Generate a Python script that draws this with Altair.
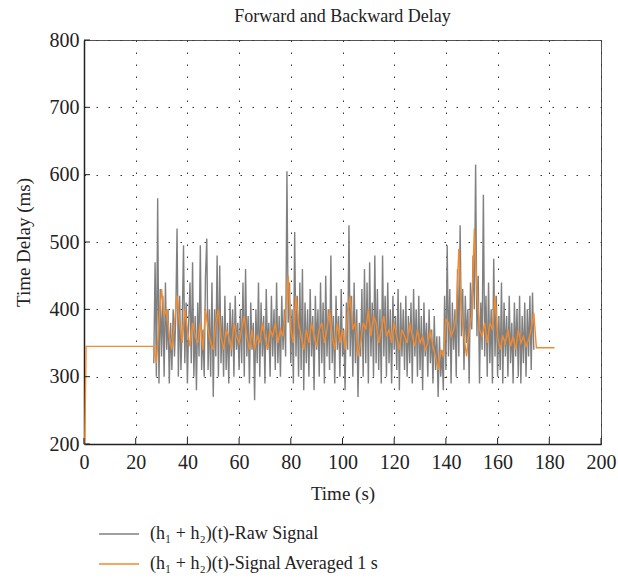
import altair as alt
import pandas as pd

# ---- data ----
raw_t0 = 27.0
raw_step = 0.5
raw_values = [
    320, 470, 300, 565, 290, 430, 330, 420, 300, 440, 340, 400, 290, 380, 310, 400, 330, 390, 520, 300,
    420, 310, 380, 495, 320, 410, 290, 380, 440, 320, 470, 300, 390, 280, 410, 330, 495, 310, 370, 300,
    450, 505, 310, 400, 300, 440, 270, 400, 330, 480, 300, 465, 320, 390, 300, 420, 310, 380, 290, 410,
    330, 400, 300, 420, 340, 380, 310, 400, 320, 440, 300, 460, 330, 390, 290, 410, 340, 380, 265, 400,
    320, 440, 300, 410, 330, 390, 290, 430, 340, 380, 300, 420, 330, 400, 310, 440, 320, 390, 300, 420,
    340, 400, 330, 605, 380, 440, 320, 400, 290, 515, 330, 420, 300, 440, 310, 460, 280, 410, 320, 400,
    300, 430, 330, 390, 280, 420, 340, 400, 300, 440, 320, 410, 290, 450, 330, 400, 310, 480, 320, 390,
    290, 420, 340, 390, 300, 430, 330, 370, 280, 410, 340, 525, 330, 420, 300, 440, 320, 400, 270, 380,
    330, 430, 300, 460, 320, 440, 290, 470, 330, 410, 300, 480, 320, 430, 310, 400, 290, 480, 330, 420,
    300, 440, 320, 400, 290, 420, 340, 390, 310, 430, 280, 410, 330, 400, 310, 420, 300, 390, 320, 410,
    290, 430, 330, 400, 300, 420, 310, 390, 280, 410, 330, 380, 300, 400, 320, 370, 290, 390, 310, 360,
    270, 360, 300, 340, 280, 420, 310, 495, 330, 430, 290, 410, 340, 400, 300, 460, 330, 525, 360, 430,
    310, 420, 350, 400, 290, 440, 370, 480, 400, 615, 360, 450, 290, 410, 340, 570, 330, 420, 300, 440,
    320, 400, 290, 475, 330, 420, 300, 390, 310, 440, 290, 410, 330, 390, 300, 420, 320, 380, 290, 410,
    330, 400, 300, 420, 290, 390, 320, 410, 300, 400, 330, 420, 310, 425, 340,
]

avg_head_t = [0.0, 0.3, 0.8]
avg_head_v = [200, 200, 345]
avg_t0 = 27
avg_values = [
    345, 320, 380, 430, 390, 400, 360, 340, 380, 420,
    380, 350, 400, 370, 345, 380, 360, 350, 380, 340,
    400, 370, 350, 340, 380, 400, 360, 340, 370, 360,
    340, 380, 360, 350, 370, 390, 360, 340, 370, 340,
    360, 350, 380, 360, 340, 370, 360, 380, 350, 370,
    360, 400, 450, 370, 350, 420, 380, 360, 340, 370,
    350, 380, 360, 345, 370, 380, 350, 370, 400, 360,
    340, 380, 350, 370, 340, 395, 420, 370, 380, 330,
    350, 380, 370, 400, 360, 390, 380, 350, 370, 390,
    360, 370, 350, 380, 360, 340, 370, 360, 350, 380,
    360, 345, 370, 350, 360, 340, 350, 370, 345, 330,
    310, 340, 330, 385, 380, 360, 370, 390, 490, 400,
    360, 330, 370, 390, 520, 430, 370, 360, 380, 350,
    380, 370, 420, 360, 340, 360, 350, 370, 345, 360,
    340, 370, 350, 360, 345, 355, 370, 395,
]
avg_tail_t = [175.0, 182.0]
avg_tail_v = [343, 343]

x_ticks = [0, 20, 40, 60, 80, 100, 120, 140, 160, 180, 200]
y_ticks = [200, 300, 400, 500, 600, 700, 800]

label_raw = "(h\u2081 + h\u2082)(t)-Raw Signal"
label_avg = "(h\u2081 + h\u2082)(t)-Signal Averaged 1 s"

# ---- tables ----
raw_df = pd.DataFrame({
    "t": [raw_t0 + i * raw_step for i in range(len(raw_values))],
    "v": raw_values,
    "series": label_raw,
})
avg_t = avg_head_t + [avg_t0 + i for i in range(len(avg_values))] + avg_tail_t
avg_v = avg_head_v + avg_values + avg_tail_v
avg_df = pd.DataFrame({"t": avg_t, "v": avg_v, "series": label_avg})

FONT = "Liberation Serif"

xscale = alt.Scale(domain=[0, 200], nice=False)
yscale = alt.Scale(domain=[200, 800], nice=False)
color_scale = alt.Scale(domain=[label_raw, label_avg], range=["#808080", "#F28A2E"])

xaxis = alt.Axis(values=x_ticks, title="Time (s)", grid=True, gridDash=[1.5, 10.5],
                 gridColor="#333333", gridWidth=1, ticks=False, labelPadding=8,
                 titlePadding=12, format="d", labelFlush=False)
yaxis = alt.Axis(values=y_ticks, title="Time Delay (ms)", grid=True, gridDash=[1.5, 10.5],
                 gridColor="#333333", gridWidth=1, ticks=False, labelPadding=5,
                 titlePadding=16, format="d", labelFlush=False)

legend = alt.Legend(title=None, orient="none", legendX=14, legendY=473,
                    symbolType="stroke", symbolSize=1600, symbolStrokeWidth=1.5,
                    labelFont=FONT, labelFontSize=18, labelColor="#222222",
                    rowPadding=0, labelOffset=10, labelLimit=400)

raw_line = alt.Chart(raw_df).mark_line(strokeWidth=1.4, interpolate="linear").encode(
    x=alt.X("t:Q", scale=xscale, axis=xaxis),
    y=alt.Y("v:Q", scale=yscale, axis=yaxis),
    color=alt.Color("series:N", scale=color_scale, legend=legend),
    order="t:Q",
)
avg_line = alt.Chart(avg_df).mark_line(strokeWidth=1.4).encode(
    x=alt.X("t:Q", scale=xscale),
    y=alt.Y("v:Q", scale=yscale),
    color=alt.Color("series:N", scale=color_scale, legend=legend),
    order="t:Q",
)

xt_df = pd.DataFrame({"x": x_ticks})
yt_df = pd.DataFrame({"y": y_ticks})
x_tick_marks = alt.Chart(xt_df).mark_rule(color="#222222", strokeWidth=1).encode(
    x=alt.X("x:Q", scale=xscale), y=alt.value(404), y2=alt.value(398))
y_tick_marks = alt.Chart(yt_df).mark_rule(color="#222222", strokeWidth=1).encode(
    y=alt.Y("y:Q", scale=yscale), x=alt.value(0), x2=alt.value(6))

chart = alt.layer(raw_line, avg_line, x_tick_marks, y_tick_marks).properties(
    width=517, height=404,
    title=alt.TitleParams("Forward and Backward Delay", font=FONT, fontSize=18,
                          fontWeight="normal", color="#222222", offset=4),
    autosize=alt.AutoSizeParams(type="none"),
    padding={"left": 84, "top": 40, "right": 17, "bottom": 138},
).configure_axis(
    labelFont=FONT, labelFontSize=20, labelColor="#222222",
    titleFont=FONT, titleFontSize=19, titleFontWeight="normal", titleColor="#222222",
    domainColor="#222222", domainWidth=1.5,
).configure_view(
    stroke="#555555", strokeWidth=1,
)

chart.save("out.html", embed_options={"renderer": "svg", "actions": False})
